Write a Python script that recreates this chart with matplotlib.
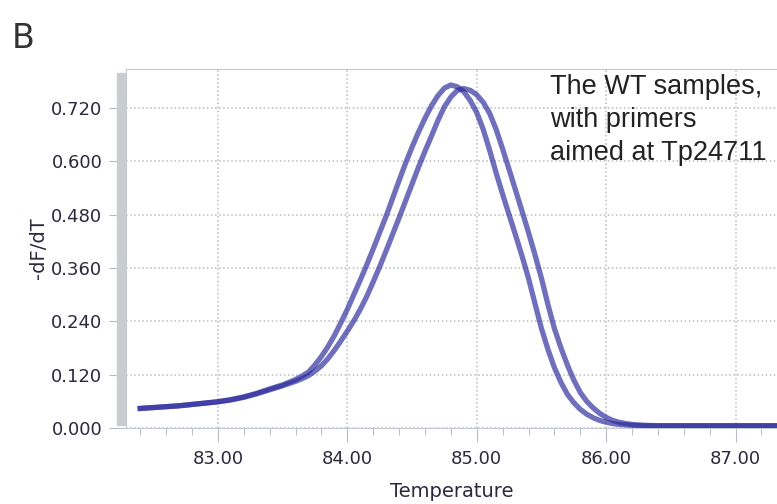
import matplotlib
matplotlib.use('Agg')
import matplotlib.pyplot as plt
from matplotlib.patches import Rectangle
from matplotlib.ticker import FormatStrFormatter, MultipleLocator

# temperatures shared by both melt curves (finer steps around the peak)
temps = [82.4, 82.5, 82.6, 82.7, 82.8, 82.9, 83.0, 83.1, 83.2, 83.3, 83.4, 83.5,
         83.60, 83.65, 83.70, 83.75, 83.80, 83.85, 83.90, 83.95,
         84.00, 84.05, 84.10, 84.15, 84.20, 84.25, 84.30, 84.35, 84.40, 84.45,
         84.50, 84.55, 84.60, 84.65, 84.70, 84.75, 84.80, 84.85, 84.90, 84.95,
         85.00, 85.05, 85.10, 85.15, 85.20, 85.25, 85.30, 85.35, 85.40, 85.45,
         85.50, 85.55, 85.60, 85.65, 85.70, 85.75, 85.80, 85.85, 85.90, 85.95,
         86.00, 86.05, 86.10, 86.15, 86.20, 86.25, 86.30,
         86.4, 86.5, 86.6, 86.7, 86.8, 86.9, 87.0, 87.1, 87.2, 87.3]

# -dF/dT, left sample
sample_a = [0.044, 0.046, 0.048, 0.050, 0.053, 0.056, 0.059, 0.064, 0.070, 0.078, 0.088, 0.097,
            0.109, 0.117, 0.126, 0.142, 0.161, 0.183, 0.208, 0.237,
            0.267, 0.300, 0.333, 0.367, 0.403, 0.440, 0.477, 0.517, 0.557, 0.596,
            0.632, 0.666, 0.697, 0.725, 0.748, 0.765, 0.772, 0.768, 0.757, 0.737,
            0.710, 0.672, 0.625, 0.574, 0.526, 0.480, 0.434, 0.387, 0.337, 0.280,
            0.224, 0.177, 0.136, 0.103, 0.076, 0.057, 0.042, 0.031, 0.023, 0.017,
            0.013, 0.010, 0.008, 0.007, 0.006, 0.005, 0.005,
            0.005, 0.005, 0.005, 0.005, 0.005, 0.005, 0.005, 0.005, 0.005, 0.005]

# -dF/dT, right sample
sample_b = [0.044, 0.046, 0.048, 0.050, 0.053, 0.056, 0.059, 0.063, 0.069, 0.077, 0.086, 0.095,
            0.105, 0.111, 0.118, 0.128, 0.140, 0.156, 0.175, 0.196,
            0.218, 0.241, 0.267, 0.296, 0.329, 0.363, 0.399, 0.436, 0.473, 0.511,
            0.549, 0.587, 0.623, 0.657, 0.692, 0.723, 0.745, 0.760, 0.764, 0.760,
            0.750, 0.733, 0.708, 0.672, 0.628, 0.582, 0.535, 0.488, 0.440, 0.390,
            0.337, 0.278, 0.224, 0.181, 0.142, 0.108, 0.080, 0.060, 0.045, 0.033,
            0.024, 0.017, 0.013, 0.010, 0.008, 0.007, 0.006,
            0.005, 0.005, 0.005, 0.005, 0.005, 0.005, 0.005, 0.005, 0.005, 0.005]

x_ticks = [83.0, 84.0, 85.0, 86.0, 87.0]
y_ticks = [0.0, 0.12, 0.24, 0.36, 0.48, 0.60, 0.72]
note = "The WT samples,\nwith primers\naimed at Tp24711"

grid_col = '#b4bcc4'
text_col = '#2a2a3c'

fig = plt.figure(figsize=(7.77, 5.04), dpi=100)
ax = fig.add_axes([126 / 777, 1 - 428 / 504, 651 / 777, 359 / 504])

for vals in (sample_a, sample_b):
    ax.plot(temps, vals, color='#2b2b9c', alpha=0.68, lw=3.8,
            solid_joinstyle='round', zorder=3)

ax.set_xlim(82.29, 87.32)
ax.set_ylim(0.0, 0.808)
ax.set_xticks(x_ticks)
ax.set_yticks(y_ticks)
ax.xaxis.set_minor_locator(MultipleLocator(0.2))
ax.xaxis.set_major_formatter(FormatStrFormatter('%.2f'))
ax.yaxis.set_major_formatter(FormatStrFormatter('%.3f'))
ax.grid(True, which='major', linestyle=':', color=grid_col, lw=1.1)

for side in ('left', 'bottom', 'top'):
    ax.spines[side].set_color('#c4cad0')
ax.spines['right'].set_visible(False)

ax.tick_params(axis='x', which='major', length=10, color=grid_col, labelsize=13,
               labelcolor=text_col, pad=6)
ax.tick_params(axis='x', which='minor', length=5, color='#aab2ba')
ax.tick_params(axis='y', length=12, color=grid_col, labelsize=13,
               labelcolor=text_col, pad=5)

ax.set_xlabel('Temperature', fontsize=14, color=text_col, labelpad=10)
ax.set_ylabel('-dF/dT', fontsize=14, color=text_col, labelpad=2)

# grey bar next to the y axis
fig.patches.append(Rectangle((117 / 777, 1 - 425 / 504), 8 / 777, 352 / 504,
                             transform=fig.transFigure, color='#c8cdd2', zorder=5))

ax.text(0.652, 0.985, note, transform=ax.transAxes, family='Liberation Sans',
        fontsize=19.5, color='#222222', va='top', ha='left', linespacing=1.35, zorder=4)

fig.text(12 / 777, 1 - 48 / 504, 'B', fontsize=24, color='#333333')

fig.savefig('out.png', dpi=100)
